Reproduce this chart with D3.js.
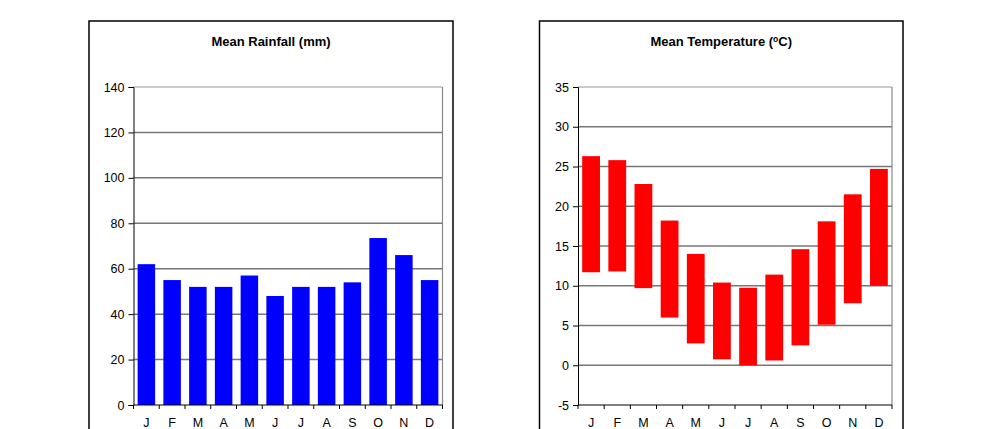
<!DOCTYPE html>
<html>
<head>
<meta charset="utf-8">
<script src="https://cdn.jsdelivr.net/npm/d3@7"></script>
<style>
  body { margin: 0; background: #fff; }
  svg { display: block; font-family: Arial, "Liberation Sans", sans-serif; }
  .title { font-size: 13px; font-weight: bold; }
  .tick text { font-size: 12.5px; fill: #000; }
</style>
</head>
<body>
<div id="chart"></div>
<script>
var months = ['J', 'F', 'M', 'A', 'M', 'J', 'J', 'A', 'S', 'O', 'N', 'D'];
var rainfall = [62, 55, 52, 52, 57, 48, 52, 52, 54, 73.5, 66, 55];
var tempMax = [26.3, 25.8, 22.8, 18.2, 14.0, 10.4, 9.75, 11.4, 14.6, 18.1, 21.5, 24.7];
var tempMin = [11.7, 11.8, 9.7, 6.0, 2.75, 0.75, 0, 0.6, 2.5, 5.1, 7.8, 10.0];
var rainTicks = [0, 20, 40, 60, 80, 100, 120, 140];
var tempTicks = [-5, 0, 5, 10, 15, 20, 25, 30, 35];

var svg = d3.select('#chart')
  .append('svg')
  .attr('width', 1000)
  .attr('height', 429);

function panel(opt){
  var g = svg.append('g');

  // outer frame
  g.append('rect')
    .attr('x', opt.box[0]).attr('y', 21)
    .attr('width', opt.box[1] - opt.box[0]).attr('height', 440)
    .attr('fill', 'none').attr('stroke', '#000').attr('stroke-width', 1.5);

  var title = g.append('text')
    .attr('class', 'title')
    .attr('x', (opt.box[0] + opt.box[1]) / 2)
    .attr('y', 46)
    .attr('text-anchor', 'middle');
  opt.title(title);

  var x = d3.scaleBand()
    .domain(d3.range(12))
    .range([opt.left, opt.right])
    .paddingInner(0.32)
    .paddingOuter(0.16);

  var y = d3.scaleLinear()
    .domain(opt.domain)
    .range([405, 87]);

  // gridlines
  g.selectAll('.grid')
    .data(opt.ticks.slice(1))
    .enter()
    .append('line')
    .attr('class', 'grid')
    .attr('x1', opt.left).attr('x2', opt.right)
    .attr('y1', (d) => y(d)).attr('y2', (d) => y(d))
    .attr('stroke', (d, i) => i === opt.ticks.length - 2 ? '#999' : '#777')
    .attr('stroke-width', (d, i) => i === opt.ticks.length - 2 ? 1 : 1.5);

  // right border of plot
  g.append('line')
    .attr('x1', opt.right).attr('x2', opt.right)
    .attr('y1', 87).attr('y2', 405)
    .attr('stroke', '#888').attr('stroke-width', 1.2);

  opt.bars(g, x, y);

  // y axis
  var yAxis = g.append('g')
    .attr('transform', 'translate(' + opt.left + ',0)')
    .call(d3.axisLeft(y).tickValues(opt.ticks).tickFormat((d) => String(d)).tickSize(5).tickPadding(4));
  yAxis.select('.domain').attr('stroke', '#000');

  // x axis with ticks at category boundaries
  var step = x.step();
  var xAxis = g.append('g')
    .attr('transform', 'translate(0,405)');
  xAxis.append('line')
    .attr('x1', opt.left).attr('x2', opt.right)
    .attr('stroke', '#000');
  xAxis.selectAll('.xt')
    .data(d3.range(13))
    .enter()
    .append('line')
    .attr('x1', (d) => opt.left + d * step).attr('x2', (d) => opt.left + d * step)
    .attr('y1', 0).attr('y2', 4)
    .attr('stroke', '#000');
  xAxis.selectAll('.xl')
    .data(months)
    .enter()
    .append('text')
    .attr('x', (d, i) => x(i) + x.bandwidth() / 2)
    .attr('y', 22)
    .attr('text-anchor', 'middle')
    .attr('font-size', 12.5)
    .text((d) => d);
}

panel({
  box: [89, 453],
  left: 133.5,
  right: 442.5,
  domain: [0, 140],
  ticks: rainTicks,
  title: function(t){ t.text('Mean Rainfall (mm)'); },
  bars: function(g, x, y){
    g.selectAll('.bar')
      .data(rainfall)
      .enter()
      .append('rect')
      .attr('x', (d, i) => x(i))
      .attr('width', x.bandwidth())
      .attr('y', (d) => y(d))
      .attr('height', (d) => y(0) - y(d))
      .attr('fill', '#0000ff');
  }
});

panel({
  box: [539.5, 903],
  left: 578,
  right: 892,
  domain: [-5, 35],
  ticks: tempTicks,
  title: function(t){
    t.append('tspan').text('Mean Temperature (');
    t.append('tspan').attr('dy', -4).attr('font-size', 8.5).text('o');
    t.append('tspan').attr('dy', 4).text('C)');
  },
  bars: function(g, x, y){
    g.selectAll('.bar')
      .data(months.map((m, i) => ({lo: tempMin[i], hi: tempMax[i]})))
      .enter()
      .append('rect')
      .attr('x', (d, i) => x(i))
      .attr('width', x.bandwidth())
      .attr('y', (d) => y(d.hi))
      .attr('height', (d) => y(d.lo) - y(d.hi))
      .attr('fill', '#ff0000');
  }
});
</script>
</body>
</html>
